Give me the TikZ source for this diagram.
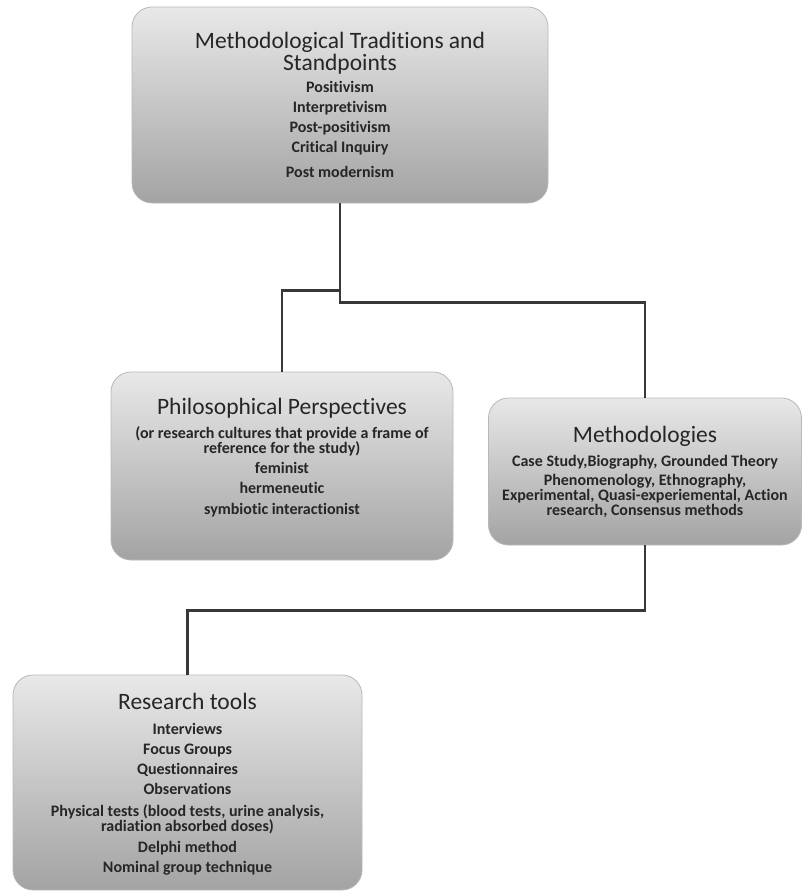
\documentclass[tikz,border=0pt]{standalone}
\usepackage{fontspec}
\setmainfont{Carlito}[Ligatures=NoCommon]
\usepackage{xcolor}
\usepackage{tikz}

\setlength{\lineskiplimit}{-100pt}
\newcommand{\boxtitle}[1]{{\mdseries\fontsize{23.5}{23.5}\selectfont #1}}

\tikzset{
  box/.style={draw=black!28, line width=0.8pt, rounded corners=20pt,
    top color=black!9, bottom color=black!36, inner sep=0pt, align=center,
    text=black!85, font=\fontsize{16}{20}\selectfont\bfseries},
  link/.style={draw=black!78, line width=2.2pt},
}

\begin{document}
\begin{tikzpicture}[x=1pt, y=-1pt]
\useasboundingbox (0,0) rectangle (802,892);

% Boxes
\node[box, minimum width=416, minimum height=196] (trad) at (340,105) {%
  \boxtitle{Methodological Traditions and}\\[2pt]
  \boxtitle{Standpoints}\\[2.5pt]
  Positivism\\
  Interpretivism\\
  Post-positivism\\
  Critical Inquiry\\[5pt]
  Post modernism};

\node[box, minimum width=342, minimum height=188, text depth=20pt] (phil) at (282,466) {%
  \boxtitle{Philosophical Perspectives}\\[4pt]
  (or research cultures that provide a frame of\\[-5pt]
  reference for the study)\\
  feminist\\
  hermeneutic\\[1pt]
  symbiotic interactionist};

\node[box, minimum width=313, minimum height=147] (meth) at (645,471.5) {%
  \boxtitle{Methodologies}\\[4pt]
  Case Study,Biography, Grounded Theory\\[-1pt]
  Phenomenology, Ethnography,\\[-5pt]
  Experimental, Quasi-experiemental, Action\\[-5pt]
  research, Consensus methods};

\node[box, minimum width=349, minimum height=215, text depth=0pt] (tools) at (187.5,782.5) {%
  \boxtitle{Research tools}\\[5pt]
  Interviews\\
  Focus Groups\\
  Questionnaires\\
  Observations\\[2pt]
  Physical tests (blood tests, urine analysis,\\[-5pt]
  radiation absorbed doses)\\[1pt]
  Delphi method\\
  Nominal group technique};

% Connectors
\draw[link] (trad.south) -- ++(0,99) -| (meth.north);
\draw[link] (trad.south) ++(0,87) -| (phil.north);
\draw[link] (meth.south) -- ++(0,65) -| (tools.north);

\end{tikzpicture}
\end{document}
